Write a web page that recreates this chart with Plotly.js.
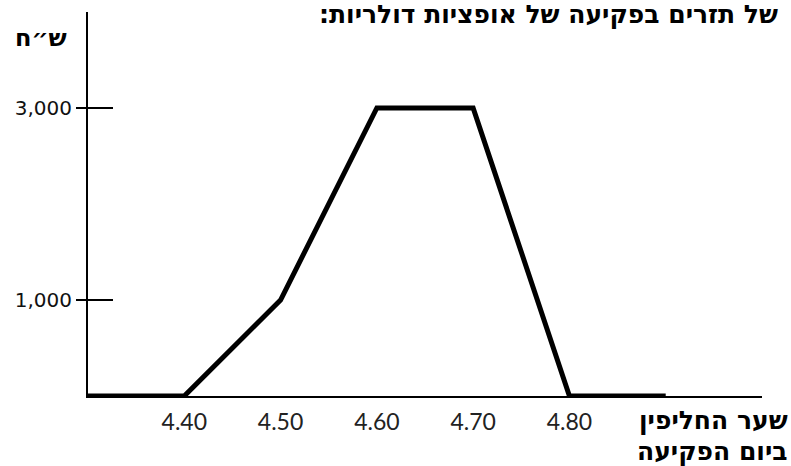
<!DOCTYPE html>
<html>
<head>
<meta charset="utf-8">
<script src="https://cdn.plot.ly/plotly-3.0.1.min.js"></script>
<style>html,body{margin:0;padding:0;background:#fff;}#chart{width:791px;height:466px;}</style>
</head>
<body>
<div id="chart"></div>
<script>
// Exchange rate at expiry (NIS per USD)
const rates = [4.30, 4.40, 4.50, 4.60, 4.70, 4.80, 4.90];
// Cash flow at expiry (NIS)
const cashFlow = [0, 0, 1000, 3000, 3000, 0, 0];
const xTickVals = [4.40, 4.50, 4.60, 4.70, 4.80];
const yTickVals = [1000, 3000];
const titleText = 'של תזרים בפקיעה של אופציות דולריות:';
const yLabel = 'ש״ח';
const xLabel1 = 'שער החליפין';
const xLabel2 = 'ביום הפקיעה';

const RLM = '\u200F';
const hebFont = {family: 'DejaVu Sans, sans-serif', size: 25, color: '#000'};
const b = t => '<b>' + RLM + t + RLM + '</b>';

const traces = [
  {x: rates, y: cashFlow, type: 'scatter', mode: 'lines',
   line: {color: '#000', width: 5}, hoverinfo: 'none', xaxis: 'x', yaxis: 'y'},
  // invisible companion so the inner tick axis is drawn
  {x: rates, y: cashFlow, type: 'scatter', mode: 'none', hoverinfo: 'none', xaxis: 'x', yaxis: 'y2'}
];

const layout = {
  width: 791, height: 466,
  margin: {l: 88, r: 29, t: 12, b: 70, pad: 0},
  paper_bgcolor: '#fff', plot_bgcolor: '#fff',
  showlegend: false,
  xaxis: {
    range: [4.30, 5.00], showline: true, linecolor: '#000', linewidth: 2,
    showgrid: false, zeroline: false, tickvals: xTickVals, tickformat: '.2f',
    ticks: 'outside', ticklen: 4, tickcolor: 'rgba(0,0,0,0)',
    tickfont: {family: 'Lato, Open Sans, sans-serif', size: 23, color: '#222'}
  },
  yaxis: {
    range: [0, 4000], showline: true, linecolor: '#000', linewidth: 2,
    showgrid: false, zeroline: false, tickvals: yTickVals, tickformat: ',d',
    ticks: 'outside', ticklen: 10, tickwidth: 1.5, tickcolor: '#000',
    tickfont: {family: 'DejaVu Sans, sans-serif', size: 20, color: '#111'}
  },
  yaxis2: {
    range: [0, 4000], overlaying: 'y', anchor: 'x', side: 'left',
    showline: false, showgrid: false, zeroline: false, tickvals: yTickVals,
    ticks: 'inside', ticklen: 25, tickwidth: 1.5, tickcolor: '#000', showticklabels: false
  },
  annotations: [
    {text: b(titleText), xref: 'paper', yref: 'paper', x: 1.0267, y: 1, xanchor: 'right', yanchor: 'top', yshift: 14, showarrow: false, font: hebFont},
    {text: b(yLabel), xref: 'paper', yref: 'paper', x: -0.0697, y: 0.932, xanchor: 'center', yanchor: 'middle', showarrow: false, font: Object.assign({}, hebFont, {size: 24})},
    {text: b(xLabel1), xref: 'paper', yref: 'paper', x: 1.0415, y: -0.063, xanchor: 'right', yanchor: 'middle', showarrow: false, font: hebFont},
    {text: b(xLabel2), xref: 'paper', yref: 'paper', x: 1.0415, y: -0.145, xanchor: 'right', yanchor: 'middle', showarrow: false, font: hebFont}
  ]
};

Plotly.newPlot('chart', traces, layout, {staticPlot: true, displayModeBar: false});
</script>
</body>
</html>
